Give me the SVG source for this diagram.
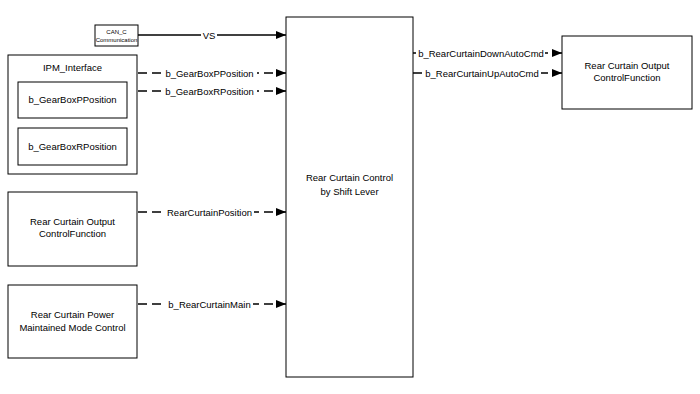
<svg xmlns="http://www.w3.org/2000/svg" width="700" height="394" viewBox="0 0 700 394">
<style>
.box{fill:#fff;stroke:#000;stroke-width:1}
.t{font-family:"Liberation Sans",Arial,sans-serif;font-size:9.5px;fill:#000;text-anchor:middle}
.s{font-family:"Liberation Sans",Arial,sans-serif;font-size:6px;fill:#000;text-anchor:middle}
.ln{stroke:#000;stroke-width:1.3;fill:none}
.dash{stroke-dasharray:9,5}
.lbl{fill:#fff;stroke:none}
</style>
<defs>
<marker id="ah" markerWidth="10" markerHeight="8" refX="10" refY="4" orient="auto" markerUnits="userSpaceOnUse">
<path d="M0,0 L10,4 L0,8 Z" fill="#000"/>
</marker>
</defs>
<rect width="700" height="394" fill="#fff"/>
<g id="can">
<rect class="box" x="95" y="25" width="43" height="21"/>
<text class="s" x="116.5" y="34">CAN_C</text>
<text class="s" x="116.5" y="42">Communication</text>
</g>
<g id="main">
<rect class="box" x="286" y="17" width="127" height="360"/>
<text class="t" x="349.5" y="181">Rear Curtain Control</text>
<text class="t" x="349.5" y="195">by Shift Lever</text>
</g>
<g id="ipm">
<rect class="box" x="8" y="55" width="129" height="119"/>
<text class="t" x="72.5" y="71">IPM_Interface</text>
<rect class="box" x="18" y="82" width="109" height="36"/>
<text class="t" x="72.5" y="103">b_GearBoxPPosition</text>
<rect class="box" x="18" y="128" width="109" height="37"/>
<text class="t" x="72.5" y="150">b_GearBoxRPosition</text>
</g>
<g id="outLeft">
<rect class="box" x="8" y="192" width="129" height="74"/>
<text class="t" x="72.5" y="225">Rear Curtain Output</text>
<text class="t" x="72.5" y="237">ControlFunction</text>
</g>
<g id="power">
<rect class="box" x="8" y="285" width="129" height="73"/>
<text class="t" x="72.5" y="318">Rear Curtain Power</text>
<text class="t" x="72.5" y="331">Maintained Mode Control</text>
</g>
<g id="outRight">
<rect class="box" x="562" y="36" width="130" height="73"/>
<text class="t" x="627" y="69">Rear Curtain Output</text>
<text class="t" x="627" y="81">ControlFunction</text>
</g>
<g id="connectors">
<line class="ln" x1="138" y1="35" x2="286" y2="35" marker-end="url(#ah)"/>
<rect class="lbl" x="201" y="29" width="16" height="11"/>
<text class="t" x="209" y="38.5">VS</text>

<line class="ln dash" x1="138" y1="73" x2="286" y2="73" marker-end="url(#ah)"/>
<rect class="lbl" x="162" y="67" width="95" height="11"/>
<text class="t" x="209.5" y="76.5">b_GearBoxPPosition</text>

<line class="ln dash" x1="138" y1="91" x2="286" y2="91" marker-end="url(#ah)"/>
<rect class="lbl" x="162" y="85" width="95" height="11"/>
<text class="t" x="209.5" y="94.5">b_GearBoxRPosition</text>

<line class="ln dash" x1="138" y1="212" x2="286" y2="212" marker-end="url(#ah)"/>
<rect class="lbl" x="165" y="206" width="89" height="11"/>
<text class="t" x="209.5" y="215.5">RearCurtainPosition</text>

<line class="ln dash" x1="138" y1="304" x2="286" y2="304" marker-end="url(#ah)"/>
<rect class="lbl" x="166" y="298" width="87" height="11"/>
<text class="t" x="209.5" y="307.5">b_RearCurtainMain</text>

<line class="ln dash" x1="413" y1="53" x2="562" y2="53" marker-end="url(#ah)"/>
<rect class="lbl" x="416" y="47" width="129" height="11"/>
<text class="t" x="481" y="56.5">b_RearCurtainDownAutoCmd</text>

<line class="ln dash" x1="413" y1="73" x2="562" y2="73" marker-end="url(#ah)"/>
<rect class="lbl" x="423" y="67" width="118" height="11"/>
<text class="t" x="482" y="76.5">b_RearCurtainUpAutoCmd</text>
</g>
</svg>
